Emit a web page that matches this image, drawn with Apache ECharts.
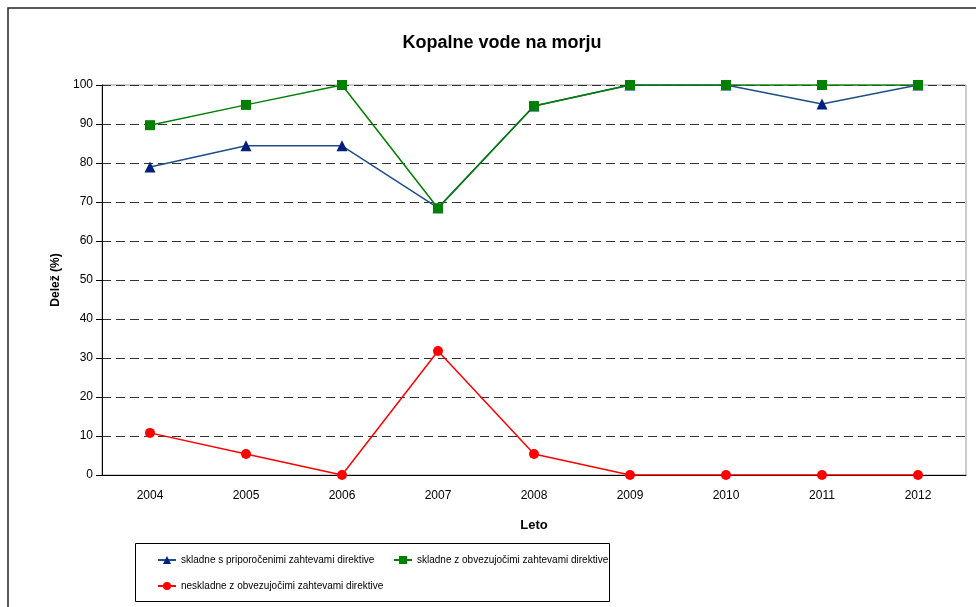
<!DOCTYPE html>
<html>
<head>
<meta charset="utf-8">
<script src="https://cdn.jsdelivr.net/npm/echarts@6/dist/echarts.min.js"></script>
<style>
  html, body { margin: 0; padding: 0; background: #fff; }
  #chart { width: 976px; height: 607px; }
</style>
</head>
<body>
<div id="chart"></div>
<script>
  // podatki
  const years = ['2004', '2005', '2006', '2007', '2008', '2009', '2010', '2011', '2012'];
  const priporocene = [79, 84.4, 84.4, 68.5, 94.6, 100, 100, 95.1, 100];
  const obvezujoce = [89.7, 94.9, 100, 68.4, 94.6, 100, 100, 100, 100];
  const neskladne = [10.8, 5.4, 0, 31.8, 5.4, 0, 0, 0, 0];
  const seriesNames = [
    'skladne s priporočenimi zahtevami direktive',
    'skladne z obvezujočimi zahtevami direktive',
    'neskladne z obvezujočimi zahtevami direktive'
  ];

  const font = '"Liberation Sans", Arial, sans-serif';
  let myChart = echarts.init(document.getElementById('chart'));

  // vsak element legende posebej, da stoji na svojem mestu
  const legendPos = [[157, 555], [393, 555], [157, 581]];
  const legends = seriesNames.map(function (name, i) {
    return {
      left: legendPos[i][0], top: legendPos[i][1],
      padding: 0,
      itemWidth: 18, itemHeight: 10,
      itemGap: 4,
      textStyle: { fontSize: 10, color: '#000', fontFamily: font },
      data: [name]
    };
  });

  let option = {
    animation: false,
    backgroundColor: '#fff',
    textStyle: { fontFamily: font },
    title: {
      text: 'Kopalne vode na morju',
      left: 497,
      top: 29,
      textAlign: 'center',
      textStyle: { fontSize: 18, fontWeight: 'bold', color: '#000', fontFamily: font }
    },
    graphic: [
      {
        type: 'rect',
        shape: { x: 8, y: 8, width: 1000, height: 700 },
        style: { fill: 'none', stroke: '#222', lineWidth: 1.5 },
        silent: true
      },
      {
        // okvir legende
        type: 'rect',
        shape: { x: 135.5, y: 543.5, width: 474, height: 58 },
        style: { fill: 'none', stroke: '#000', lineWidth: 1 },
        silent: true
      }
    ],
    grid: {
      left: 102, right: 10, top: 85, bottom: 132,
      show: true, borderColor: '#999', borderWidth: 1, backgroundColor: 'transparent'
    },
    legend: legends,
    xAxis: {
      type: 'category',
      data: years,
      name: 'Leto',
      nameLocation: 'middle',
      nameGap: 44,
      nameTextStyle: { fontSize: 13, fontWeight: 'bold', color: '#000' },
      axisLine: { lineStyle: { color: '#000', width: 1 } },
      axisTick: { length: 5, lineStyle: { color: '#000' } },
      axisLabel: { fontSize: 12, color: '#000', margin: 15 }
    },
    yAxis: {
      type: 'value',
      min: 0, max: 100, interval: 10,
      name: 'Delež (%)',
      nameLocation: 'middle',
      nameGap: 39,
      nameTextStyle: { fontSize: 12, fontWeight: 'bold', color: '#000' },
      axisLine: { show: true, lineStyle: { color: '#000', width: 1 } },
      axisTick: { show: true, length: 6, lineStyle: { color: '#000' } },
      axisLabel: { fontSize: 12, color: '#000', margin: 9 },
      splitLine: { lineStyle: { color: '#333', type: [9, 5], width: 1 } }
    },
    series: [
      {
        name: seriesNames[0],
        type: 'line',
        data: priporocene,
        symbol: 'triangle',
        symbolSize: 11,
        lineStyle: { color: '#1F4E89', width: 1.5 },
        itemStyle: { color: '#002080', borderWidth: 0 }
      },
      {
        name: seriesNames[1],
        type: 'line',
        data: obvezujoce,
        symbol: 'rect',
        symbolSize: 10,
        lineStyle: { color: '#008000', width: 1.5 },
        itemStyle: { color: '#008000', borderWidth: 0 }
      },
      {
        name: seriesNames[2],
        type: 'line',
        data: neskladne,
        symbol: 'circle',
        symbolSize: 10,
        lineStyle: { color: '#FF0000', width: 1.5 },
        itemStyle: { color: '#FF0000', borderWidth: 0 }
      }
    ]
  };

  myChart.setOption(option);
</script>
</body>
</html>
